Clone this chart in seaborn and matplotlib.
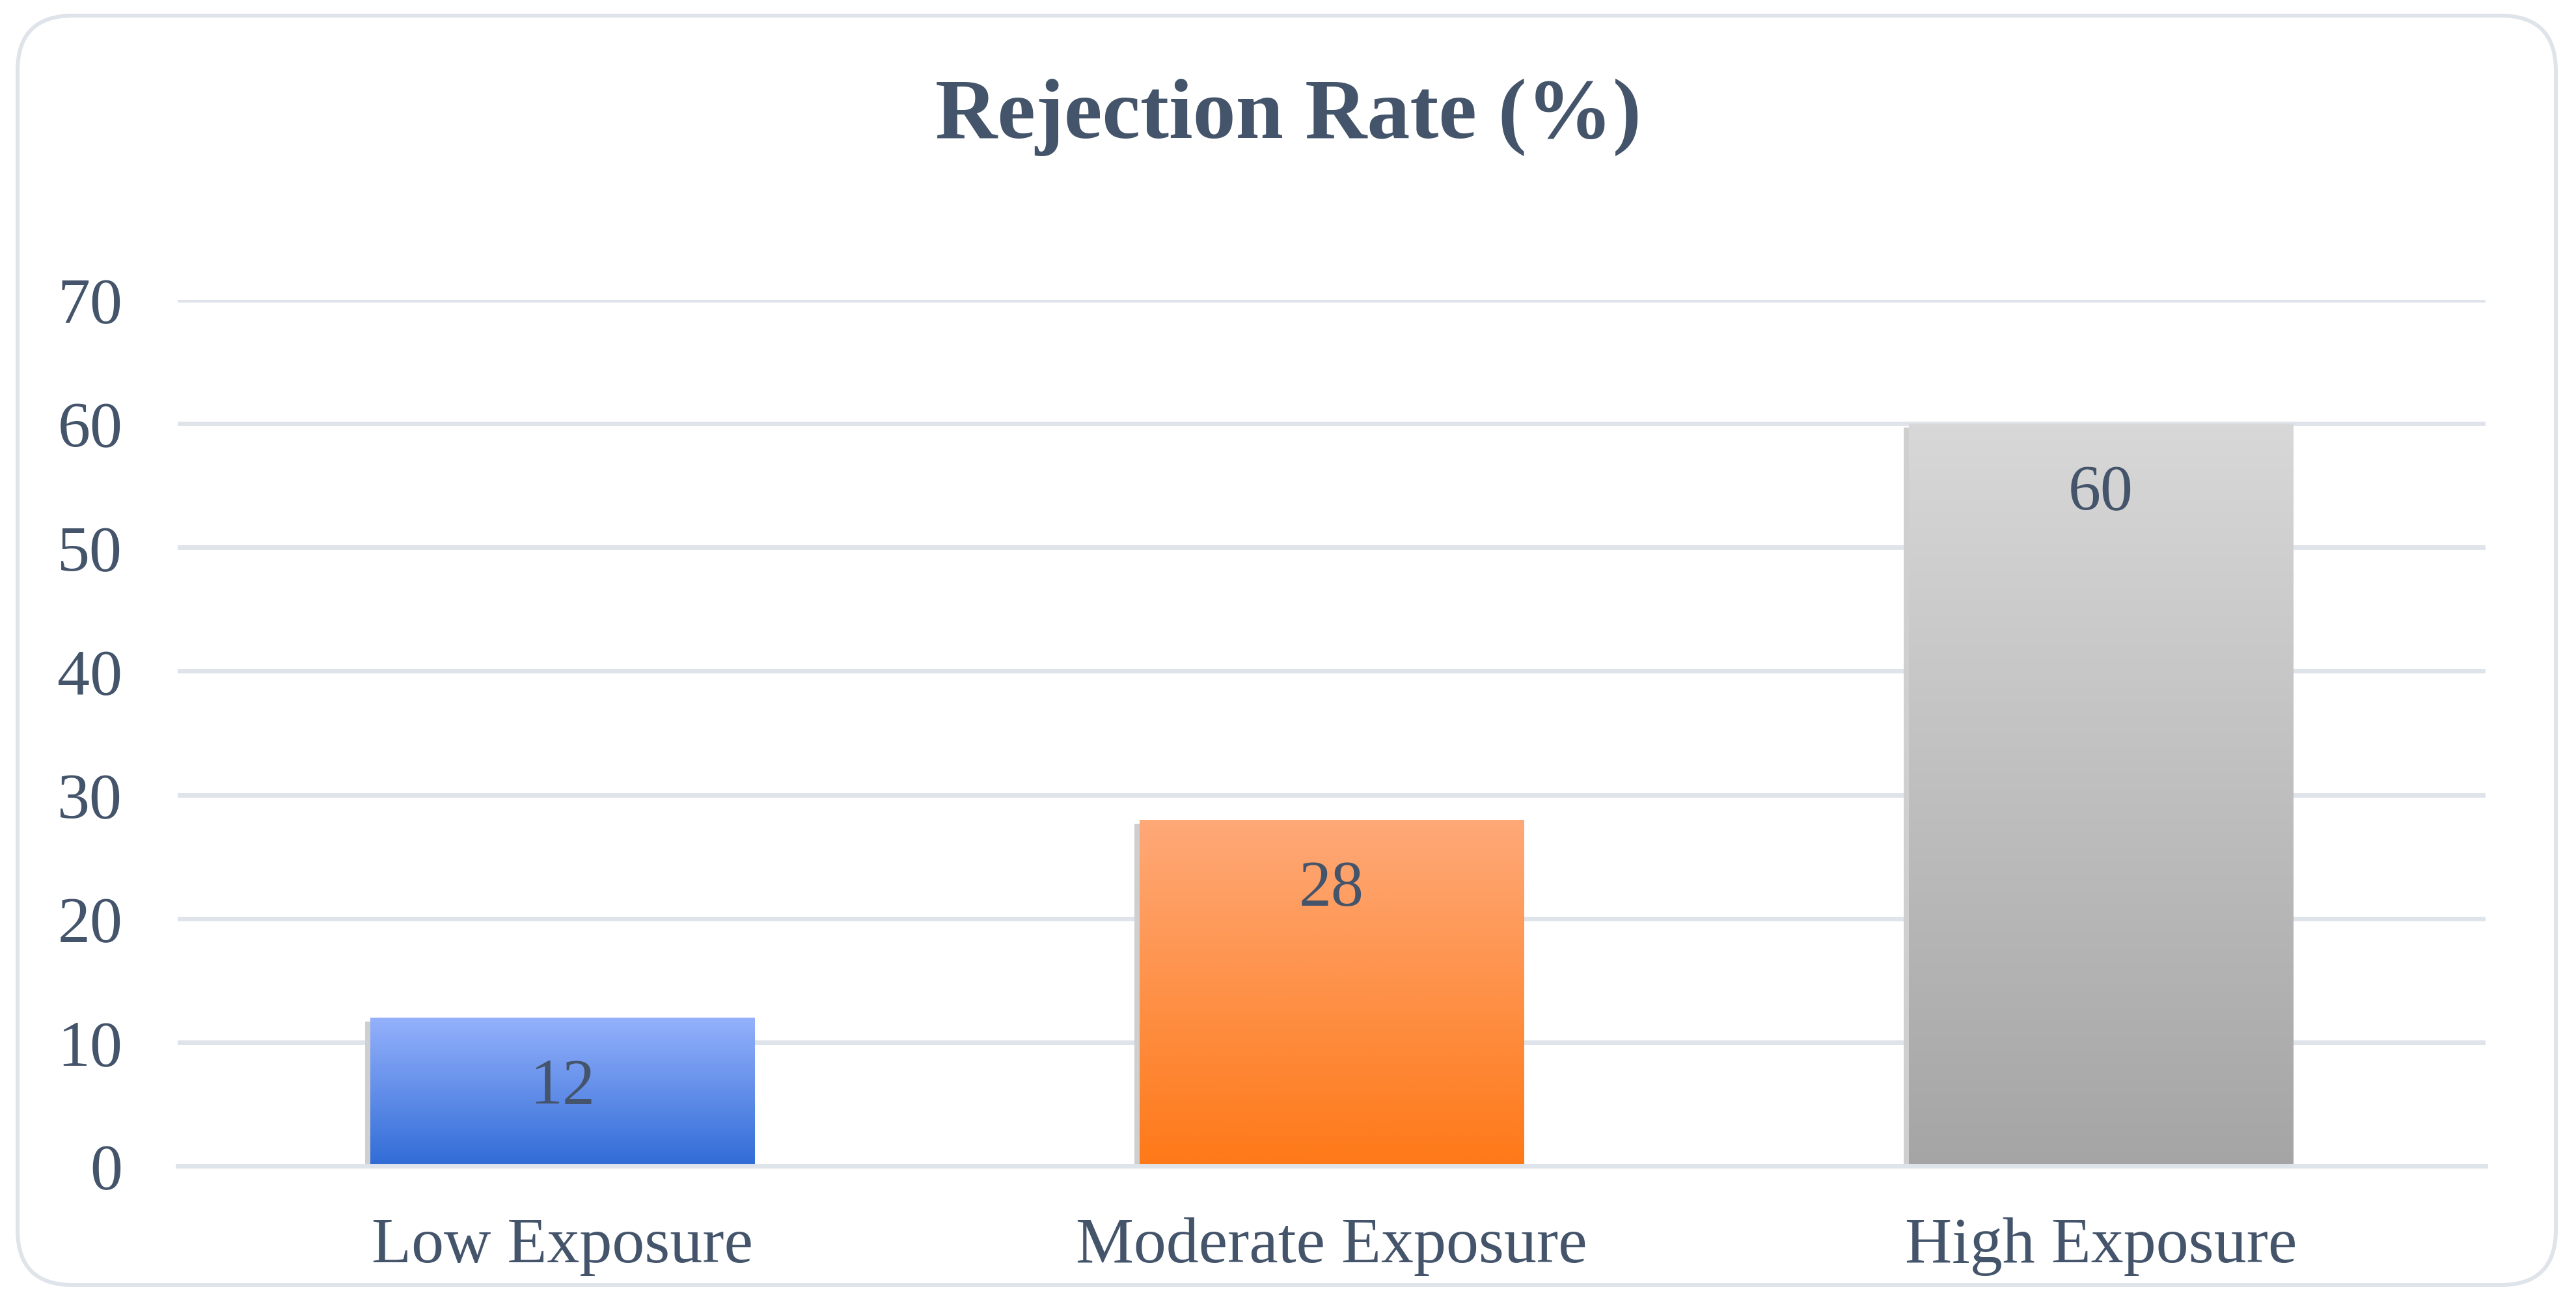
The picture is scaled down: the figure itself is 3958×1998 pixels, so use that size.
import matplotlib
matplotlib.use('Agg')
import numpy as np
import matplotlib.pyplot as plt
import seaborn as sns
from matplotlib.colors import LinearSegmentedColormap
from matplotlib.patches import FancyBboxPatch
from matplotlib.transforms import ScaledTranslation

categories = ['Low Exposure', 'Moderate Exposure', 'High Exposure']
rejection_rate = [12, 28, 60]
y_ticks = [0, 10, 20, 30, 40, 50, 60, 70]

top_colors = ['#95b1fc', '#fea978', '#d8d8d8']
bottom_colors = ['#306cd6', '#fe7918', '#a5a5a5']

TEXT = '#44546a'
GRID = '#dfe3ea'
SERIF = ['Liberation Serif', 'DejaVu Serif']

sns.set_theme(style='whitegrid')
plt.rcParams['font.family'] = SERIF

W, H, DPI = 3958, 1999, 100
fig = plt.figure(figsize=(W / DPI, H / DPI), dpi=DPI)
fig.patch.set_facecolor('white')

ax = fig.add_axes([273 / W, (H - 1793) / H, (3819 - 273) / W, (1793 - 462) / H])
ax.set_facecolor('white')

# soft shadow behind each bar, shifted a few pixels left and down
sns.barplot(x=categories, y=rejection_rate, color='#cfcfcf', width=0.5,
            saturation=1, ax=ax)
shift = ScaledTranslation(-8 / DPI, -6 / DPI, fig.dpi_scale_trans)
for p in ax.patches:
    p.set_transform(ax.transData + shift)
    p.set_zorder(1.5)
    p.set_linewidth(0)
n_shadow = len(ax.patches)

sns.barplot(x=categories, y=rejection_rate, hue=categories, palette=top_colors,
            legend=False, width=0.5, saturation=1, ax=ax)
bars = ax.patches[n_shadow:]

# vertical gradient fill clipped to each bar
grad = np.linspace(0, 1, 256).reshape(-1, 1)
for p, top, bot, val in zip(bars, top_colors, bottom_colors, rejection_rate):
    x0, w, h = p.get_x(), p.get_width(), p.get_height()
    cmap = LinearSegmentedColormap.from_list('g', [bot, top])
    im = ax.imshow(grad, cmap=cmap, origin='lower', aspect='auto',
                   extent=[x0, x0 + w, 0, h], zorder=2)
    im.set_clip_path(p)
    p.set_facecolor('none')
    p.set_linewidth(0)
    ax.annotate(str(val), xy=(x0 + w / 2, h), xytext=(0, -77),
                textcoords='offset points', ha='center', va='center',
                fontsize=72, color=TEXT, zorder=4)

ax.set_xlim(-0.5, 2.5)
ax.set_ylim(0, 70)
ax.set_yticks(y_ticks)
ax.set_axisbelow(True)
ax.grid(axis='y', color=GRID, linewidth=5)
ax.grid(axis='x', visible=False)
for side in ['left', 'right', 'top']:
    ax.spines[side].set_visible(False)
ax.spines['bottom'].set_color(GRID)
ax.spines['bottom'].set_linewidth(5)
ax.spines['bottom'].set_zorder(3)
ax.tick_params(axis='y', length=0, pad=61, labelsize=72, labelcolor=TEXT)
ax.tick_params(axis='x', length=0, pad=56, labelsize=72, labelcolor=TEXT)
ax.set_xlabel('')
ax.set_ylabel('')

fig.text(0.5, 1 - 212 / H, 'Rejection Rate (%)', ha='center', va='baseline',
         fontsize=95, fontweight='bold', color=TEXT, family=SERIF)

frame = FancyBboxPatch((27 / DPI, 23 / DPI), (3927 - 27) / DPI, (H - 25 - 23) / DPI,
                       boxstyle='round,pad=0,rounding_size=0.85',
                       transform=fig.dpi_scale_trans, facecolor='none',
                       edgecolor=GRID, linewidth=4.3, zorder=10)
fig.patches.append(frame)

fig.savefig('out.png', dpi=DPI, facecolor='white')
